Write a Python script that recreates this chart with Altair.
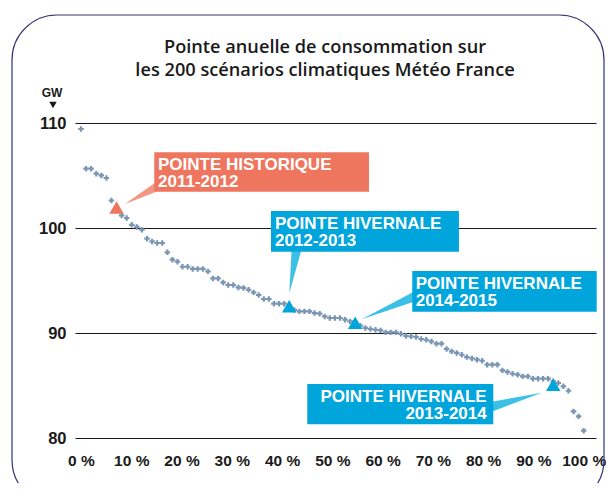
import altair as alt
import pandas as pd

# ---- data ----
# annual peak (GW) of the ranked climate scenarios, from highest to lowest
peak_gw = [
    109.43, 105.65, 105.65, 105.17, 105.01, 104.76, 102.62, 101.95, 101.20, 100.95,
    100.30, 100.10, 99.84, 98.98, 98.72, 98.57, 98.57, 97.68, 96.98, 96.79,
    96.31, 96.31, 96.10, 96.10, 96.10, 95.87, 95.20, 95.20, 94.82, 94.57,
    94.57, 94.34, 94.29, 94.12, 93.87, 93.62, 93.24, 93.24, 92.79, 92.79,
    92.79, 92.55, 92.20, 92.06, 92.06, 92.06, 91.90, 91.84, 91.58, 91.43,
    91.43, 91.43, 91.27, 91.10, 90.95, 90.70, 90.48, 90.38, 90.31, 90.25,
    90.06, 90.06, 90.06, 89.92, 89.72, 89.68, 89.62, 89.43, 89.36, 89.20,
    88.98, 88.98, 88.48, 88.25, 88.10, 87.93, 87.71, 87.58, 87.46, 87.36,
    86.98, 86.98, 86.98, 86.44, 86.29, 86.12, 86.03, 85.87, 85.87, 85.65,
    85.65, 85.65, 85.65, 85.40, 85.24, 84.92, 84.50, 82.53, 82.06, 80.70,
]
n_points = len(peak_gw)
rank_pct = [100.0 * i / (n_points - 1) for i in range(n_points)]

# highlighted winters
event_rank = [7, 41, 54, 93]
event_gw = [101.95, 92.55, 90.98, 85.08]
event_color = ["#EF765E", "#00A5DC", "#00A5DC", "#00A5DC"]
event_label = ["POINTE HISTORIQUE\n2011-2012", "POINTE HIVERNALE\n2012-2013",
               "POINTE HIVERNALE\n2014-2015", "POINTE HIVERNALE\n2013-2014"]

x_ticks = [0, 10, 20, 30, 40, 50, 60, 70, 80, 90, 100]
y_ticks = [80, 90, 100, 110]
title_lines = "Pointe anuelle de consommation sur\nles 200 scénarios climatiques Météo France"
unit_label = "GW"

# label boxes (data coordinates: % , GW)
box_x1 = [14.58, 37.80, 65.90, 45.02]
box_x2 = [57.29, 75.19, 102.59, 82.02]
box_y1 = [107.21, 101.62, 95.90, 85.14]
box_y2 = [103.46, 97.74, 92.03, 81.30]
box_fill = ["#EF765E", "#00A5DC", "#00A5DC", "#00A5DC"]
text_x = [15.32, 38.59, 66.58, 80.71]
text_y = [105.50, 99.91, 94.19, 83.43]

# ---- tables ----
df = pd.DataFrame({"pct": rank_pct, "gw": peak_gw})
ev = pd.DataFrame({"pct": [rank_pct[i] for i in event_rank], "gw": event_gw, "c": event_color})
boxes = pd.DataFrame({"x1": box_x1, "x2": box_x2, "y1": box_y1, "y2": box_y2, "c": box_fill})
labels = pd.DataFrame({"x": text_x, "y": text_y, "t": event_label})

# pointer wedges (base inside the box, tip near the marker)
ptr_v = pd.DataFrame({  # horizontal-ish pointers: x independent
    "g": ["a", "a", "c", "c", "d", "d"],
    "x": [8.75, 14.95, 55.84, 66.2, 81.7, 91.65],
    "y": [102.29, 104.38, 91.30, 93.93, 83.46, 84.31],
    "y2": [102.29, 103.46, 91.30, 92.98, 82.50, 84.31],
    "c": ["#F39683", "#F39683", "#3DC0E5", "#3DC0E5", "#3DC0E5", "#3DC0E5"],
})
ptr_h = pd.DataFrame({  # vertical pointer: y independent
    "g": ["b", "b"],
    "y": [93.78, 98.0],
    "x": [41.44, 41.91],
    "x2": [41.44, 43.90],
    "c": ["#3DC0E5", "#3DC0E5"],
})

xs = alt.Scale(domain=[-1.19, 102.45], nice=False, zero=False)
ys = alt.Scale(domain=[80, 110], nice=False, zero=False)

AX_FONT = "Liberation Sans"

x_axis = alt.Axis(values=x_ticks, labelExpr="datum.value + ' %'", grid=False, domain=False,
                  ticks=False, labelFont=AX_FONT, labelFontSize=15.5, labelFontWeight="bold",
                  labelColor="#1a1a1a", labelPadding=15, labelFlush=False, labelOverlap=False,
                  title=None)
y_axis = alt.Axis(values=y_ticks, grid=True, gridColor="#1a1a1a", gridWidth=1.2, gridOpacity=1,
                  domain=False, ticks=False, labelFont=AX_FONT, labelFontSize=16.5,
                  labelFontWeight="bold", labelColor="#1a1a1a", labelPadding=9, title=None)


def X(field):
    return alt.X(field, scale=xs, axis=x_axis)


def Y(field):
    return alt.Y(field, scale=ys, axis=y_axis)


dots = alt.Chart(df).mark_point(shape="cross", filled=True, size=30, color="#7B96B2",
                                opacity=1).encode(x=X("pct:Q"), y=Y("gw:Q"))

pv = alt.Chart(ptr_v).mark_area(orient="vertical").encode(
    x=X("x:Q"), y=Y("y:Q"), y2="y2:Q",
    detail="g:N", color=alt.Color("c:N", scale=None),
)
ph = alt.Chart(ptr_h).mark_area(orient="horizontal").encode(
    y=Y("y:Q"), x=X("x:Q"), x2="x2:Q",
    detail="g:N", color=alt.Color("c:N", scale=None),
)

rects = alt.Chart(boxes).mark_rect().encode(
    x=X("x1:Q"), x2="x2:Q", y=Y("y1:Q"), y2="y2:Q",
    color=alt.Color("c:N", scale=None),
)

BOX_FONT = "Liberation Sans"
txt_left = alt.Chart(labels.iloc[:3]).mark_text(
    align="left", baseline="alphabetic", color="white", font=BOX_FONT, fontSize=17,
    fontWeight="bold", lineBreak="\n", lineHeight=17).encode(
    x=X("x:Q"), y=Y("y:Q"), text="t:N")
txt_right = alt.Chart(labels.iloc[3:]).mark_text(
    align="right", baseline="alphabetic", color="white", font=BOX_FONT, fontSize=17,
    fontWeight="bold", lineBreak="\n", lineHeight=17).encode(
    x=X("x:Q"), y=Y("y:Q"), text="t:N")

tris = alt.Chart(ev).mark_point(shape="triangle-up", filled=True, size=210, opacity=1).encode(
    x=X("pct:Q"), y=Y("gw:Q"),
    color=alt.Color("c:N", scale=None),
)

one = pd.DataFrame({"t": [title_lines]})
title = alt.Chart(one).mark_text(
    align="center", baseline="alphabetic", font="Open Sans", fontWeight=600, fontSize=18.2,
    lineBreak="\n", lineHeight=23, color="#1a1a1a").encode(
    x=alt.value(250), y=alt.value(-70.5), text="t:N")

unit = alt.Chart(pd.DataFrame({"t": [unit_label]})).mark_text(
    align="center", baseline="alphabetic", font=AX_FONT, fontWeight="bold", fontSize=12,
    color="#1a1a1a").encode(x=alt.value(-23), y=alt.value(-26), text="t:N")
unit_tri = alt.Chart(pd.DataFrame({"t": [unit_label]})).mark_point(
    shape="triangle-down", filled=True, size=55, color="#1a1a1a", opacity=1).encode(
    x=alt.value(-22), y=alt.value(-18))

border = alt.Chart(pd.DataFrame({"t": [unit_label]})).mark_rect(
    fillOpacity=0, stroke="#353370", strokeWidth=1.2, cornerRadius=45).encode(
    x=alt.value(-63), x2=alt.value(529), y=alt.value(-108), y2=alt.value(382))

chart = alt.layer(border, dots, pv, ph, rects, txt_left, txt_right, tris, title, unit,
                  unit_tri).properties(
    width=521, height=315,
    autosize=alt.AutoSizeParams(type="none"),
    padding={"left": 67, "top": 115, "right": 10, "bottom": 45},
    background="white",
).configure_view(strokeWidth=0)

chart.save("out.html", embed_options={"renderer": "svg", "actions": False})
